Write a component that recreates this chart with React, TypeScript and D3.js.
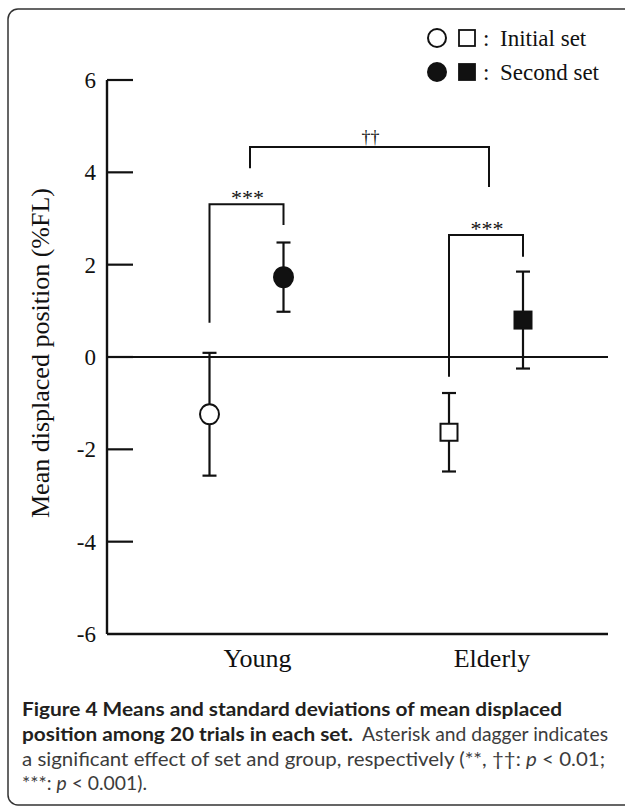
import React from "react";
import * as d3 from "d3";

const groups = ["Young", "Elderly"];
const sets = ["Initial set", "Second set"];
const meansInitial = [-1.24, -1.63];
const meansSecond = [1.73, 0.8];
const sdInitial = [1.33, 0.85];
const sdSecond = [0.75, 1.05];
const yTicks = [6, 4, 2, 0, -2, -4, -6];

// within-group (set) brackets
const setSigLabels = ["***", "***"];
const setSigTop = [3.31, 2.64];
const setSigLeftEnd = [0.74, -0.43];
const setSigRightEnd = [2.86, 2.17];
// between-group bracket
const groupSigLabel = "††";
const groupSigTop = 4.55;
const groupSigLeftEnd = 4.09;
const groupSigRightEnd = 3.68;

const W = 625;
const H = 807;
const plotLeft = 107;
const plotRight = 608;
const plotTop = 80;
const plotBottom = 634;
const SERIF = "'Liberation Serif', 'Times New Roman', serif";
const SANS = "Lato, 'Open Sans', sans-serif";

export default function App() {
  const y = d3.scaleLinear().domain([-6, 6]).range([plotBottom, plotTop]);
  const xg = d3.scalePoint<string>().domain(groups).range([plotLeft + 139.5, plotRight - 122]);
  const xs = d3.scalePoint<string>().domain(sets).range([-37, 37]);
  const px = (g: number, s: number) => (xg(groups[g]) as number) + (xs(sets[s]) as number);
  const cap = 7;
  const sw = 2.2;
  const ink = "#111";

  const points = groups.flatMap((g, gi) => [
    { gi, si: 0, m: meansInitial[gi], sd: sdInitial[gi] },
    { gi, si: 1, m: meansSecond[gi], sd: sdSecond[gi] },
  ]);

  return (
    <svg width={W} height={H} style={{ position: "absolute", left: 0, top: 0, background: "#fff" }}>
      <rect x={8} y={9} width={660} height={796} rx={10} fill="none" stroke="#333" strokeWidth={1.5} />

      {/* axes */}
      <line x1={plotLeft} x2={plotLeft} y1={y(6)} y2={y(-6)} stroke={ink} strokeWidth={2.4} />
      <line x1={plotLeft} x2={plotRight} y1={y(-6)} y2={y(-6)} stroke={ink} strokeWidth={2.4} />
      <line x1={plotLeft} x2={plotRight} y1={y(0)} y2={y(0)} stroke={ink} strokeWidth={2} />
      {yTicks.map((t) => (
        <g key={t}>
          {t !== -6 && <line x1={plotLeft} x2={plotLeft + 26} y1={y(t)} y2={y(t)} stroke={ink} strokeWidth={2.2} />}
          <text x={96} y={y(t) + 8} textAnchor="end" fontFamily={SERIF} fontSize={23} fill={ink}>
            {t}
          </text>
        </g>
      ))}
      <text
        transform={`translate(49, ${(y(6) + y(-6)) / 2 - 4}) rotate(-90)`}
        textAnchor="middle"
        fontFamily={SERIF}
        fontSize={26}
        fill={ink}
      >
        Mean displaced position (%FL)
      </text>
      {groups.map((g, gi) => (
        <text key={g} x={(xg(g) as number) + (gi === 0 ? 11 : 6)} y={667} textAnchor="middle" fontFamily={SERIF} fontSize={26} fill={ink}>
          {g}
        </text>
      ))}

      {/* error bars and markers */}
      {points.map((p, i) => {
        const cx = px(p.gi, p.si);
        const cy = y(p.m);
        const filled = p.si === 1;
        return (
          <g key={i}>
            <line x1={cx} x2={cx} y1={y(p.m + p.sd)} y2={y(p.m - p.sd)} stroke={ink} strokeWidth={sw} />
            <line x1={cx - cap} x2={cx + cap} y1={y(p.m + p.sd)} y2={y(p.m + p.sd)} stroke={ink} strokeWidth={sw} />
            <line x1={cx - cap} x2={cx + cap} y1={y(p.m - p.sd)} y2={y(p.m - p.sd)} stroke={ink} strokeWidth={sw} />
            {p.gi === 0 ? (
              <ellipse cx={cx} cy={cy} rx={9.5} ry={10} fill={filled ? ink : "#fff"} stroke={ink} strokeWidth={2} />
            ) : (
              <rect x={cx - 8.5} y={cy - 8.5} width={17} height={17} fill={filled ? ink : "#fff"} stroke={ink} strokeWidth={2} />
            )}
          </g>
        );
      })}

      {/* set brackets */}
      {groups.map((g, gi) => {
        const x1 = px(gi, 0);
        const x2 = px(gi, 1);
        const top = y(setSigTop[gi]);
        return (
          <g key={"b" + g}>
            <path
              d={`M${x1},${y(setSigLeftEnd[gi])}V${top}H${x2}V${y(setSigRightEnd[gi])}`}
              fill="none"
              stroke={ink}
              strokeWidth={2}
            />
            <text x={(x1 + x2) / 2 + 1} y={top + 1} textAnchor="middle" fontFamily={SERIF} fontSize={22} fill={ink}>
              {setSigLabels[gi]}
            </text>
          </g>
        );
      })}

      {/* group bracket */}
      {(() => {
        const x1 = (xg(groups[0]) as number) + 3.5;
        const x2 = (xg(groups[1]) as number) + 3;
        const top = y(groupSigTop);
        return (
          <g>
            <path
              d={`M${x1},${y(groupSigLeftEnd)}V${top}H${x2}V${y(groupSigRightEnd)}`}
              fill="none"
              stroke={ink}
              strokeWidth={2}
            />
            <text x={(x1 + x2) / 2 + 1} y={top - 4} textAnchor="middle" fontFamily={SERIF} fontSize={18} fill={ink}>
              {groupSigLabel}
            </text>
          </g>
        );
      })()}

      {/* legend */}
      {sets.map((s, si) => {
        const ly = 38 + si * 34;
        const filled = si === 1;
        return (
          <g key={s}>
            <circle cx={437} cy={ly} r={9} fill={filled ? ink : "#fff"} stroke={ink} strokeWidth={2} />
            <rect x={459} y={ly - 8} width={16} height={16} fill={filled ? ink : "#fff"} stroke={ink} strokeWidth={1.8} />
            <text x={483} y={ly + 8} fontFamily={SERIF} fontSize={23} fill={ink}>:</text>
            <text x={500} y={ly + 8} fontFamily={SERIF} fontSize={23} fill={ink}>{s}</text>
          </g>
        );
      })}

      {/* caption */}
      <text x={22} y={716} fontFamily={SANS} fontSize={19} fontWeight={700} fill="#231f20" textLength={540} lengthAdjust="spacingAndGlyphs">
        Figure 4 Means and standard deviations of mean displaced
      </text>
      <text x={22} y={741} fontFamily={SANS} fontSize={19} fontWeight={700} fill="#231f20" textLength={331} lengthAdjust="spacingAndGlyphs">
        position among 20 trials in each set.
      </text>
      <text x={362} y={741} fontFamily={SANS} fontSize={19} fill="#3c3c3c" textLength={246} lengthAdjust="spacingAndGlyphs">
        Asterisk and dagger indicates
      </text>
      <text x={22} y={766} fontFamily={SANS} fontSize={19} fill="#3c3c3c" textLength={583} lengthAdjust="spacingAndGlyphs">
        a significant effect of set and group, respectively (**, ††: <tspan fontStyle="italic">p</tspan> &lt; 0.01;
      </text>
      <text x={22} y={790} fontFamily={SANS} fontSize={19} fill="#3c3c3c" textLength={125} lengthAdjust="spacingAndGlyphs">
        ***: <tspan fontStyle="italic">p</tspan> &lt; 0.001).
      </text>
    </svg>
  );
}
